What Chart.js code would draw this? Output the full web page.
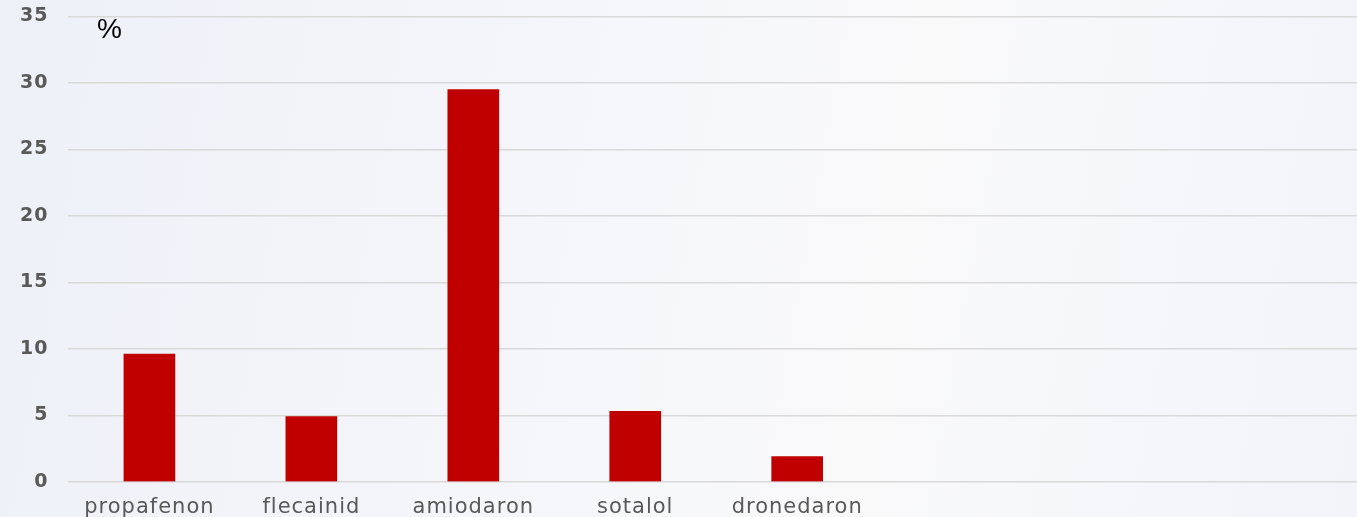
<!DOCTYPE html>
<html>
<head>
<meta charset="utf-8">
<script src="https://cdn.jsdelivr.net/npm/chart.js@4.4.1/dist/chart.umd.min.js"></script>
<style>
  html, body { margin: 0; padding: 0; width: 1357px; height: 517px; overflow: hidden; }
  body { background: linear-gradient(100deg, #eef0f8 0%, #f5f6fa 40%, #f9f9fa 65%, #f2f4f9 100%); position: relative; }
  #wrap { position: absolute; left: 0; top: -15px; width: 1364px; height: 548px; }
  #unit { position: absolute; left: 97px; top: 15px; font: 28px/1 "Liberation Sans", Arial, sans-serif; color: #000; }
</style>
</head>
<body>
<div id="wrap"><canvas id="c" width="1364" height="548"></canvas></div>
<div id="unit">%</div>
<script>
const categories = ['propafenon', 'flecainid', 'amiodaron', 'sotalol', 'dronedaron', '', '', ''];
const values = [9.6, 4.9, 29.5, 5.3, 1.9, null, null, null];
const yTicks = [0, 5, 10, 15, 20, 25, 30, 35];

const spacing = {
  id: 'spacing',
  beforeLayout(chart) { chart.ctx.letterSpacing = '1px'; },
  beforeDraw(chart) { chart.ctx.letterSpacing = '1px'; }
};

new Chart(document.getElementById('c'), {
  type: 'bar',
  data: {
    labels: categories,
    datasets: [{
      data: values,
      backgroundColor: '#c00000',
      borderWidth: 0,
      barThickness: 51
    }]
  },
  plugins: [spacing],
  options: {
    responsive: false,
    animation: false,
    layout: { padding: 0 },
    plugins: { legend: { display: false }, tooltip: { enabled: false } },
    scales: {
      x: {
        grid: { display: false, drawTicks: false },
        border: { display: false },
        ticks: {
          color: '#595959',
          font: { family: '"DejaVu Sans", sans-serif', size: 21 },
          padding: 13,
          maxRotation: 0,
          autoSkip: false
        }
      },
      y: {
        min: 0, max: 35,
        afterBuildTicks: (axis) => { axis.ticks = yTicks.map(v => ({ value: v })); },
        grid: { color: '#d9d9d9', lineWidth: 1.5, drawTicks: false },
        border: { display: false },
        ticks: {
          color: '#595959',
          font: { family: '"DejaVu Sans", sans-serif', size: 19, weight: 'bold' },
          padding: 20
        }
      }
    }
  }
});
</script>
</body>
</html>
